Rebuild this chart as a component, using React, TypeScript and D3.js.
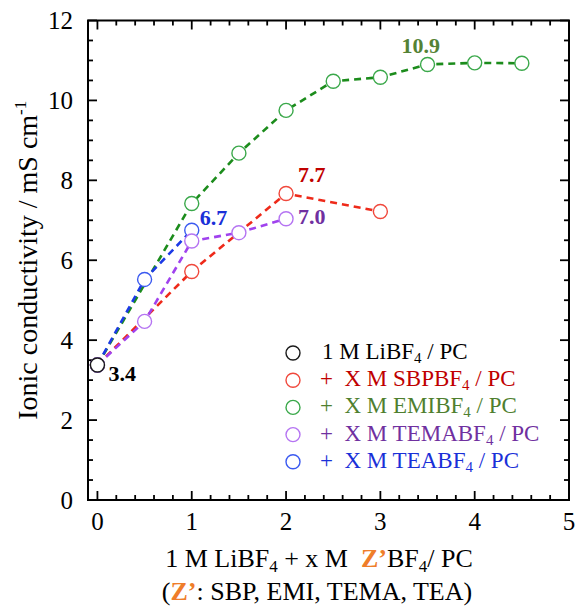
import React from 'react';
import * as d3 from 'd3';

const W = 577;
const H = 606;

// axis domains and ticks
const xDomain: [number, number] = [-0.1, 5];
const yDomain: [number, number] = [0, 12];
const xMajorTicks = [0, 1, 2, 3, 4, 5];
const yMajorTicks = [0, 2, 4, 6, 8, 10, 12];
const xMinorStep = 0.2;
const yMinorStep = 0.5;

// data (x = added salt concentration / M, y = ionic conductivity / mS cm-1)
const baseX = [0];
const baseY = [3.38];
const sbpX = [0, 1, 2, 3];
const sbpY = [3.38, 5.72, 7.67, 7.22];
const emiX = [0, 1, 1.5, 2, 2.5, 3, 3.5, 4, 4.5];
const emiY = [3.38, 7.42, 8.68, 9.75, 10.48, 10.58, 10.9, 10.94, 10.93];
const temaX = [0, 0.5, 1, 1.5, 2];
const temaY = [3.38, 4.47, 6.48, 6.69, 7.04];
const teaX = [0, 0.5, 1];
const teaY = [3.38, 5.52, 6.75];

// legend
const NB = '\u00A0';
const legendMain = ['1 M LiBF', `+${NB} X M SBPBF`, `+${NB} X M EMIBF`, `+${NB} X M TEMABF`, `+${NB} X M TEABF`];
const legendSub = ['4', '4', '4', '4', '4'];
const legendTail = [' / PC', ' / PC', ' / PC', ' / PC', ' / PC'];

// annotations
const annText = ['3.4', '6.7', '7.0', '7.7', '10.9'];
const annX = [0, 1, 2, 2, 3.5];
const annY = [3.38, 6.75, 7.04, 7.67, 10.9];

const FONT = "'Liberation Serif', 'Times New Roman', Times, serif";

const plot = { left: 88, right: 569, top: 20.5, bottom: 500 };

type Series = {
  xs: number[];
  ys: number[];
  marker: string;
  line: string;
  text: string;
};

const series: Series[] = [
  { xs: baseX, ys: baseY, marker: '#1a1a1a', line: '#1a1a1a', text: '#000000' },
  { xs: sbpX, ys: sbpY, marker: '#f0483c', line: '#ee2a1a', text: '#c00000' },
  { xs: emiX, ys: emiY, marker: '#3aa84a', line: '#1c8c1c', text: '#4f7f2f' },
  { xs: temaX, ys: temaY, marker: '#b574f2', line: '#a042ee', text: '#7030a0' },
  { xs: teaX, ys: teaY, marker: '#3b5af0', line: '#1c3ae6', text: '#1a30d8' },
];

const annColor = ['#000000', '#1a30d8', '#7030a0', '#c00000', '#548235'];
const annDx = [11, 8, 12, 12, -26];
const annDy = [16, -5, 5, -12, -11];

export default function App() {
  const x = d3.scaleLinear().domain(xDomain).range([plot.left, plot.right]);
  const y = d3.scaleLinear().domain(yDomain).range([plot.bottom, plot.top]);

  const xMinor = d3.range(0, xDomain[1] + 1e-9, xMinorStep);
  const yMinor = d3.range(yDomain[0], yDomain[1] + 1e-9, yMinorStep);

  const line = d3
    .line<[number, number]>()
    .x((d) => x(d[0]))
    .y((d) => y(d[1]));

  const lineOrder = [2, 4, 1, 3];
  const markerOrder = [2, 1, 4, 3, 0];

  const majorLen = 9;
  const minorLen = 5;

  const legendX = 293;
  const legendY0 = 353;
  const legendDy = 27.2;

  return (
    <svg
      width={W}
      height={H}
      style={{ position: 'absolute', left: 0, top: 0, background: '#fff' }}
      fontFamily={FONT}
    >
      <rect x={0} y={0} width={W} height={H} fill="#fff" />

      {/* ticks */}
      <g stroke="#000" strokeWidth={1.8}>
        {xMinor.map((t, i) => {
          const isMajor = xMajorTicks.some((m) => Math.abs(m - t) < 1e-6);
          const len = isMajor ? majorLen : minorLen;
          return (
            <g key={'xt' + i}>
              <line x1={x(t)} x2={x(t)} y1={plot.bottom} y2={plot.bottom - len} />
              <line x1={x(t)} x2={x(t)} y1={plot.top} y2={plot.top + len} />
            </g>
          );
        })}
        {yMinor.map((t, i) => {
          const isMajor = yMajorTicks.some((m) => Math.abs(m - t) < 1e-6);
          const len = isMajor ? majorLen : minorLen;
          return (
            <g key={'yt' + i}>
              <line x1={plot.left} x2={plot.left + len} y1={y(t)} y2={y(t)} />
              <line x1={plot.right} x2={plot.right - len} y1={y(t)} y2={y(t)} />
            </g>
          );
        })}
      </g>

      {/* frame */}
      <rect
        x={plot.left}
        y={plot.top}
        width={plot.right - plot.left}
        height={plot.bottom - plot.top}
        fill="none"
        stroke="#000"
        strokeWidth={2}
      />

      {/* tick labels */}
      <g fontSize={25} fill="#000">
        {xMajorTicks.map((t) => (
          <text key={'xl' + t} x={x(t)} y={530} textAnchor="middle">
            {t}
          </text>
        ))}
        {yMajorTicks.map((t) => (
          <text key={'yl' + t} x={73} y={y(t) + 8.5} textAnchor="end">
            {t}
          </text>
        ))}
      </g>

      {/* y title */}
      <text
        transform={`translate(37, ${(plot.top + plot.bottom) / 2}) rotate(-90)`}
        textAnchor="middle"
        fontSize={28}
        fill="#000"
      >
        Ionic conductivity / mS cm
        <tspan fontSize={17} dy={-11}>-1</tspan>
      </text>

      {/* x title */}
      <text x={319} y={567} textAnchor="middle" fontSize={26} fill="#000">
        {'1 M LiBF'}
        <tspan fontSize={17} dy={5}>4</tspan>
        <tspan dy={-5}>{` + x M ${NB}`}</tspan>
        <tspan fill="#ef7d2a" fontWeight="bold">Z’</tspan>
        <tspan>BF</tspan>
        <tspan fontSize={17} dy={5}>4</tspan>
        <tspan dy={-5}>/ PC</tspan>
      </text>
      <text x={317} y={600} textAnchor="middle" fontSize={26} fill="#000">
        (<tspan fill="#ef7d2a" fontWeight="bold">Z’</tspan>: SBP, EMI, TEMA, TEA)
      </text>

      {/* lines */}
      {lineOrder.map((si) => {
        const s = series[si];
        const pts = s.xs.map((v, i) => [v, s.ys[i]] as [number, number]);
        return (
          <path
            key={'ln' + si}
            d={line(pts) || ''}
            fill="none"
            stroke={s.line}
            strokeWidth={2.6}
            strokeDasharray="7 5"
          />
        );
      })}

      {/* markers */}
      {markerOrder.map((si) => {
        const s = series[si];
        return (
          <g key={'mk' + si}>
            {s.xs.map((v, i) => (
              <circle
                key={i}
                cx={x(v)}
                cy={y(s.ys[i])}
                r={7}
                fill="#fff"
                stroke={s.marker}
                strokeWidth={1.4}
              />
            ))}
          </g>
        );
      })}

      {/* annotations */}
      <g fontSize={22} fontWeight="bold">
        {annText.map((t, i) => (
          <text key={'an' + i} x={x(annX[i]) + annDx[i]} y={y(annY[i]) + annDy[i]} fill={annColor[i]}>
            {t}
          </text>
        ))}
      </g>

      {/* legend */}
      <g fontSize={23}>
        {series.map((s, i) => {
          const cy = legendY0 + i * legendDy;
          return (
            <g key={'lg' + i}>
              <circle cx={legendX} cy={cy} r={7} fill="#fff" stroke={s.marker} strokeWidth={1.4} />
              <text x={legendX + (i === 0 ? 29 : 27)} y={cy + 6} fill={s.text}>
                {legendMain[i]}
                <tspan fontSize={15} dy={4}>{legendSub[i]}</tspan>
                <tspan dy={-4}>{legendTail[i]}</tspan>
              </text>
            </g>
          );
        })}
      </g>
    </svg>
  );
}
